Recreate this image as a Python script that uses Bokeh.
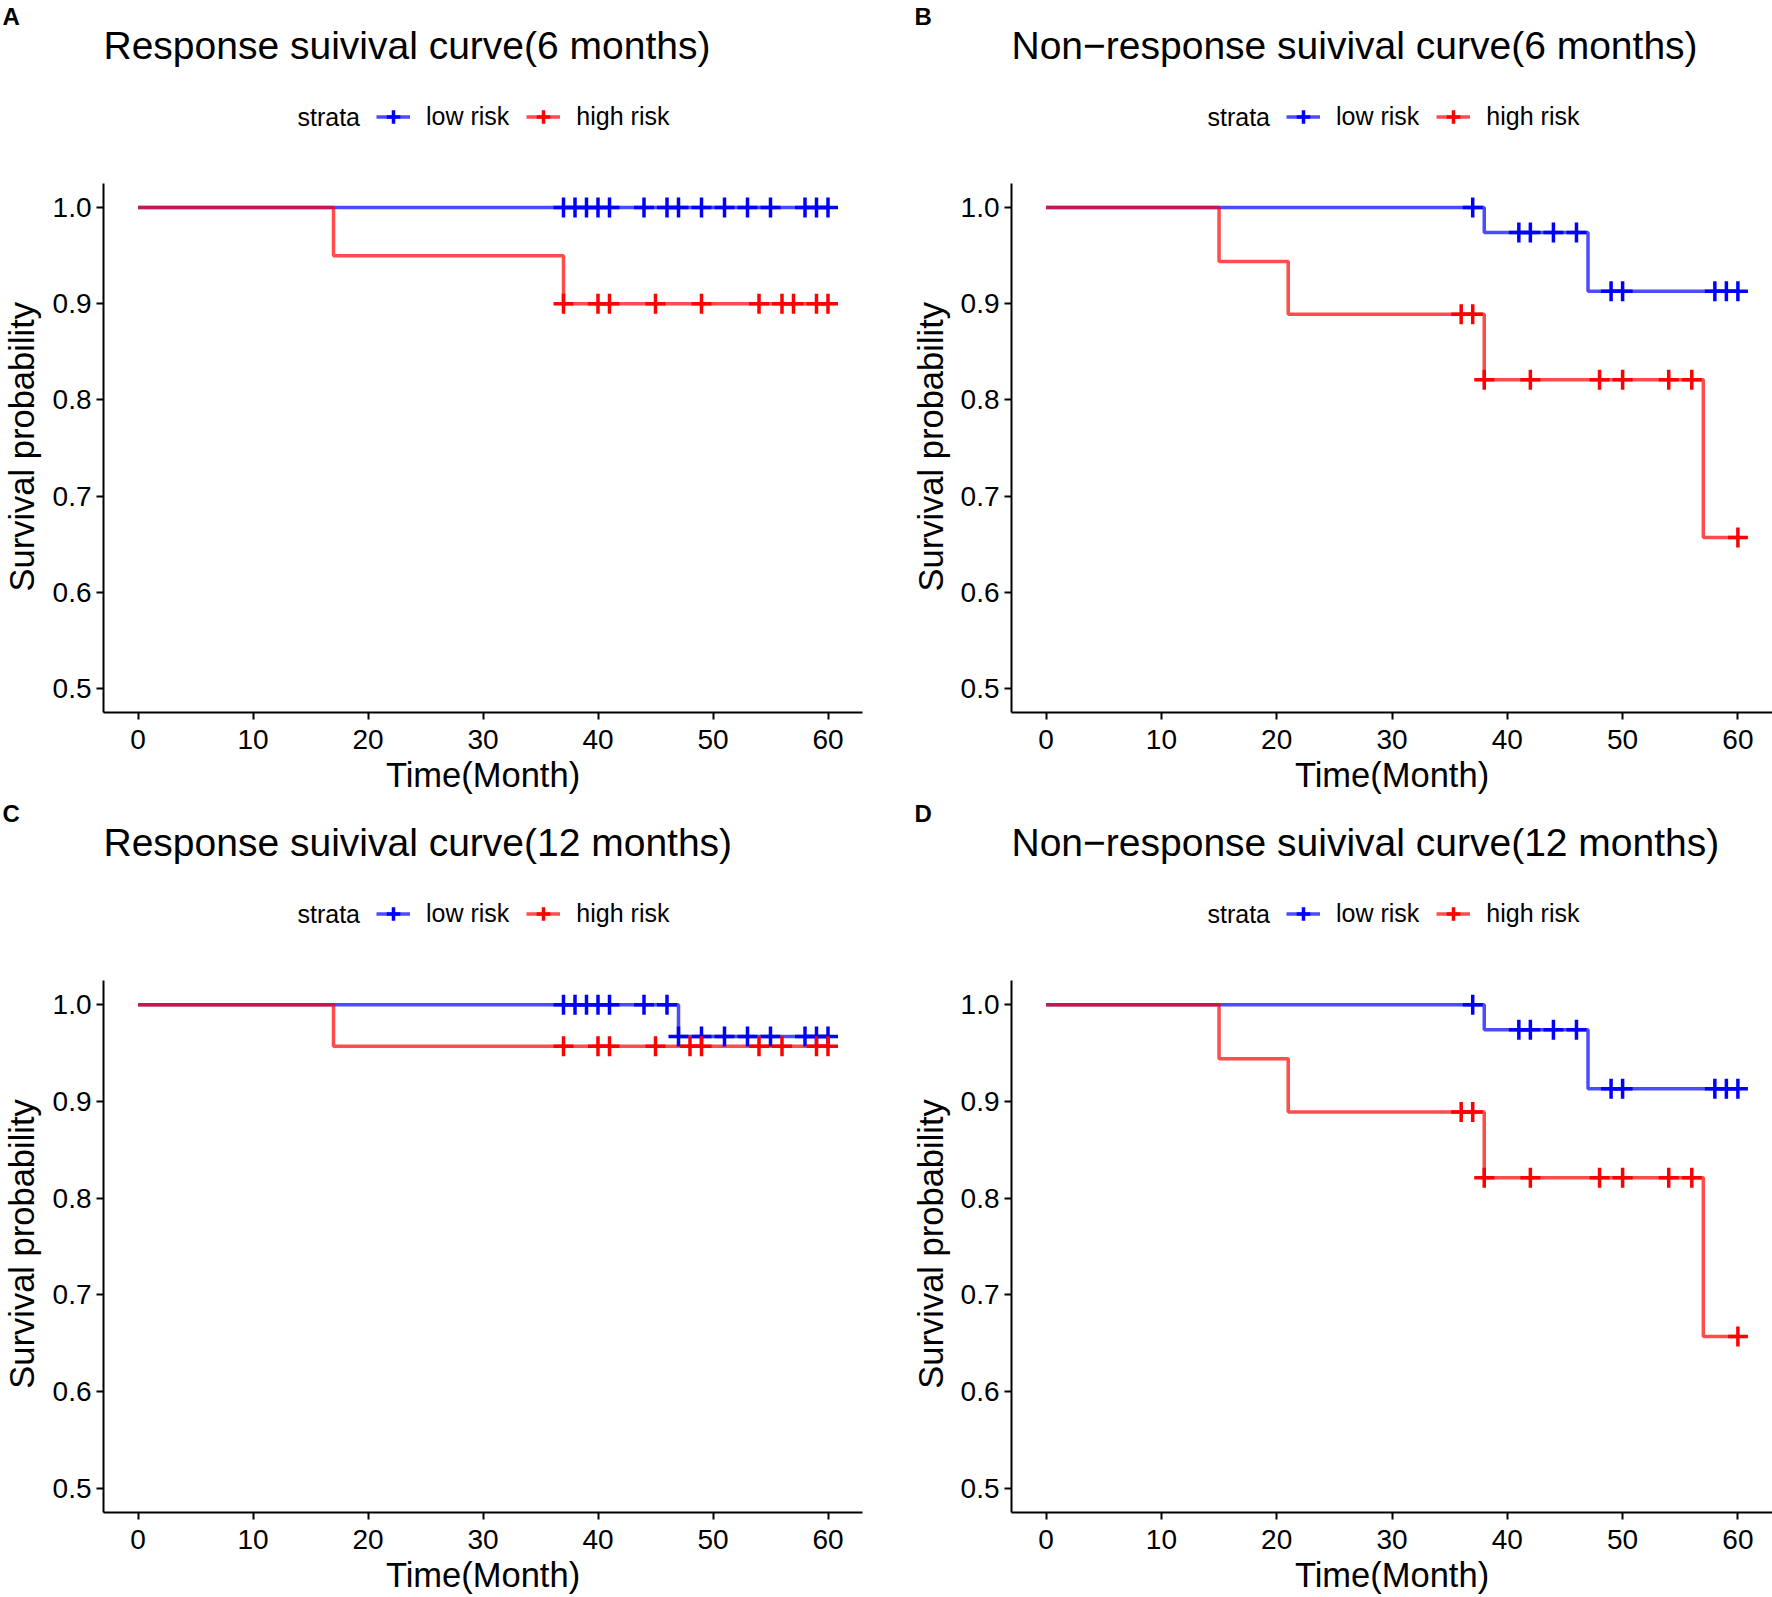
import numpy as np
from bokeh.plotting import figure
from bokeh.models import (Range1d, FixedTicker, PrintfTickFormatter, Label,
                          Legend, LegendItem)
from bokeh.layouts import column, row
from bokeh.embed import file_html
from bokeh.resources import INLINE

FONT = "Liberation Sans"
BLUE = "#0000FF"
RED = "#FF0000"

# ---------------- data ----------------
x_ticks = [0, 10, 20, 30, 40, 50, 60]
y_ticks = [0.5, 0.6, 0.7, 0.8, 0.9, 1.0]
strata_labels = ["low risk", "high risk"]
legend_title = "strata"
x_title = "Time(Month)"
y_title = "Survival probability"

titles = ["Response suivival curve(6 months)",
          "Non\u2212response suivival curve(6 months)",
          "Response suivival curve(12 months)",
          "Non\u2212response suivival curve(12 months)"]
letters = ["A", "B", "C", "D"]

# Panel A : response, 6 months
A_low_time = [0, 60]
A_low_surv = [1.0, 1.0]
A_low_censor = [37, 38, 39, 40, 41, 44, 46, 47, 49, 51, 53, 55, 58, 59, 60]
A_high_time = [0, 17, 37, 60]
A_high_surv = [1.0, 0.95, 0.90, 0.90]
A_high_censor = [37, 40, 41, 45, 49, 54, 56, 57, 59, 60]

# Panel B : non-response, 6 months
B_low_time = [0, 38, 47, 60]
B_low_surv = [1.0, 0.974, 0.913, 0.913]
B_low_censor = [37, 41, 42, 44, 46, 49, 50, 58, 59, 60]
B_high_time = [0, 15, 21, 38, 57, 60]
B_high_surv = [1.0, 0.944, 0.889, 0.821, 0.657, 0.657]
B_high_censor = [36, 37, 38, 42, 48, 50, 54, 56, 60]

# Panel C : response, 12 months
C_low_time = [0, 47, 60]
C_low_surv = [1.0, 0.967, 0.967]
C_low_censor = [37, 38, 39, 40, 41, 44, 46, 47, 49, 51, 53, 55, 58, 59, 60]
C_high_time = [0, 17, 60]
C_high_surv = [1.0, 0.957, 0.957]
C_high_censor = [37, 40, 41, 45, 48, 49, 54, 56, 59, 60]

# Panel D : non-response, 12 months
D_low_time = [0, 38, 47, 60]
D_low_surv = [1.0, 0.974, 0.913, 0.913]
D_low_censor = [37, 41, 42, 44, 46, 49, 50, 58, 59, 60]
D_high_time = [0, 15, 21, 38, 57, 60]
D_high_surv = [1.0, 0.944, 0.889, 0.821, 0.657, 0.657]
D_high_censor = [36, 37, 38, 42, 48, 50, 54, 56, 60]

# ---------------- layout constants ----------------
COL_W = [886, 886]          # width of each column
FRAME_LEFT = [103, 125]     # frame left offset inside column
YLAB_W = [45, 67]           # width of the y-title strip
YLAB_X = [21, 44]           # centre line of the y title inside strip
YLAB_SHIFT = -37            # correction of the rotated title's vertical anchor
RIGHT_B = [24, 0]
LETTER_X = [2, 28]
HEAD_H = [178, 179]         # header heights per row
TOP_B = 5
FRAME_H = [531, 532]
BOT_B = [82, 85]
LINE_W = 3.5
CROSS_SIZE = 20
CROSS_W = 3.5


def surv_at(times, surv, t):
    idx = np.searchsorted(np.asarray(times), np.asarray(t), side="right") - 1
    return list(np.asarray(surv)[idx])


def blank(width, height):
    f = figure(width=width, height=height, x_range=Range1d(0, width),
               y_range=Range1d(0, height), min_border=0, toolbar_location=None,
               output_backend="svg", x_axis_type=None, y_axis_type=None)
    f.outline_line_color = None
    f.background_fill_color = "white"
    f.border_fill_color = "white"
    return f


def header(col, rw, title, letter):
    W, H = COL_W[col], HEAD_H[rw]
    fl = FRAME_LEFT[col]
    h = blank(W, H)
    # legend sample renderers, kept outside the visible range
    lo_line = h.line([-50, -40], [-50, -50], line_color=BLUE, line_alpha=0.7,
                     line_width=LINE_W)
    lo_pt = h.scatter([-50], [-50], marker="cross", size=CROSS_SIZE, line_color=BLUE,
                      line_width=CROSS_W)
    hi_line = h.line([-50, -40], [-50, -50], line_color=RED, line_alpha=0.7,
                     line_width=LINE_W)
    hi_pt = h.scatter([-50], [-50], marker="cross", size=CROSS_SIZE, line_color=RED,
                      line_width=CROSS_W)
    # vertical offsets are measured from the header bottom (plot frame top - TOP_B)
    legend = Legend(items=[LegendItem(label=strata_labels[0], renderers=[lo_line, lo_pt]),
                           LegendItem(label=strata_labels[1], renderers=[hi_line, hi_pt])],
                    orientation="horizontal",
                    location=(fl + 273 + 2 * col, 66.5 - TOP_B - 17.5),
                    glyph_width=34, glyph_height=35, label_height=25,
                    label_standoff=16, spacing=17, padding=0, margin=0,
                    label_text_font=FONT, label_text_font_size="25px",
                    label_text_color="black",
                    border_line_color=None, background_fill_alpha=0)
    h.add_layout(legend, "center")
    h.add_layout(Label(x=fl + 194 + 2 * col, y=66.5 - TOP_B, text=legend_title,
                       text_font=FONT, text_font_size="25px", text_baseline="middle",
                       text_align="left", text_color="black"))
    h.add_layout(Label(x=fl, y=138 - TOP_B, text=title, text_font=FONT,
                       text_font_size="39px", text_baseline="middle",
                       text_align="left", text_color="black"))
    h.add_layout(Label(x=LETTER_X[col], y=167.2 - TOP_B, text=letter,
                       text_font=FONT, text_font_size="24px", text_font_style="bold",
                       text_baseline="middle", text_align="left",
                       text_color="black"))
    return h


def ylab_strip(col, rw):
    W = YLAB_W[col]
    H = TOP_B + FRAME_H[rw] + BOT_B[rw]
    s = blank(W, H)
    s.add_layout(Label(x=YLAB_X[col], y=BOT_B[rw] + FRAME_H[rw] / 2 + YLAB_SHIFT,
                       text=y_title, text_font=FONT, text_font_size="34.5px",
                       angle=np.pi / 2, text_baseline="middle", text_align="center",
                       text_color="black"))
    return s


def plot_body(col, rw, low, high):
    width = COL_W[col] - YLAB_W[col]
    height = TOP_B + FRAME_H[rw] + BOT_B[rw]
    bl = FRAME_LEFT[col] - YLAB_W[col]
    p = figure(width=width, height=height, min_border_left=bl,
               min_border_right=RIGHT_B[col], min_border_top=TOP_B,
               min_border_bottom=BOT_B[rw],
               x_range=Range1d(-3, 63), y_range=Range1d(0.475, 1.025),
               toolbar_location=None, output_backend="svg", title=None)
    p.outline_line_color = None
    p.xgrid.visible = False
    p.ygrid.visible = False
    p.background_fill_color = "white"
    p.border_fill_color = "white"

    for ax in (p.xaxis[0], p.yaxis[0]):
        ax.axis_line_width = 2
        ax.axis_line_color = "black"
        ax.major_tick_line_width = 2
        ax.major_tick_line_color = "black"
        ax.major_tick_out = 7
        ax.major_tick_in = 0
        ax.minor_tick_out = 0
        ax.minor_tick_in = 0
        ax.major_label_text_font = FONT
        ax.major_label_text_font_size = "28px"
        ax.major_label_text_color = "black"
    p.xaxis.major_label_standoff = 10
    p.xaxis.ticker = FixedTicker(ticks=x_ticks)
    p.yaxis.ticker = FixedTicker(ticks=y_ticks)
    p.yaxis.formatter = PrintfTickFormatter(format="%.1f")
    p.xaxis.axis_label = x_title
    p.xaxis.axis_label_text_font = FONT
    p.xaxis.axis_label_text_font_size = "34.5px"
    p.xaxis.axis_label_text_font_style = "normal"
    p.xaxis.axis_label_text_color = "black"
    p.xaxis.axis_label_standoff = 4

    (lt, ls, lc), (ht, hs, hc) = low, high
    p.step(lt, ls, mode="after", line_color=BLUE, line_alpha=0.7, line_width=LINE_W)
    p.step(ht, hs, mode="after", line_color=RED, line_alpha=0.7, line_width=LINE_W)
    p.scatter(lc, surv_at(lt, ls, lc), marker="cross", size=CROSS_SIZE,
              line_color=BLUE, line_width=CROSS_W)
    p.scatter(hc, surv_at(ht, hs, hc), marker="cross", size=CROSS_SIZE,
              line_color=RED, line_width=CROSS_W)
    return p


def panel(col, rw, title, letter, low, high):
    return column(header(col, rw, title, letter),
                  row(ylab_strip(col, rw), plot_body(col, rw, low, high)))


pA = panel(0, 0, titles[0], letters[0],
           (A_low_time, A_low_surv, A_low_censor),
           (A_high_time, A_high_surv, A_high_censor))
pB = panel(1, 0, titles[1], letters[1],
           (B_low_time, B_low_surv, B_low_censor),
           (B_high_time, B_high_surv, B_high_censor))
pC = panel(0, 1, titles[2], letters[2],
           (C_low_time, C_low_surv, C_low_censor),
           (C_high_time, C_high_surv, C_high_censor))
pD = panel(1, 1, titles[3], letters[3],
           (D_low_time, D_low_surv, D_low_censor),
           (D_high_time, D_high_surv, D_high_censor))

layout = column(row(pA, pB), row(pC, pD))
open("out.html", "w").write(file_html(layout, INLINE))
